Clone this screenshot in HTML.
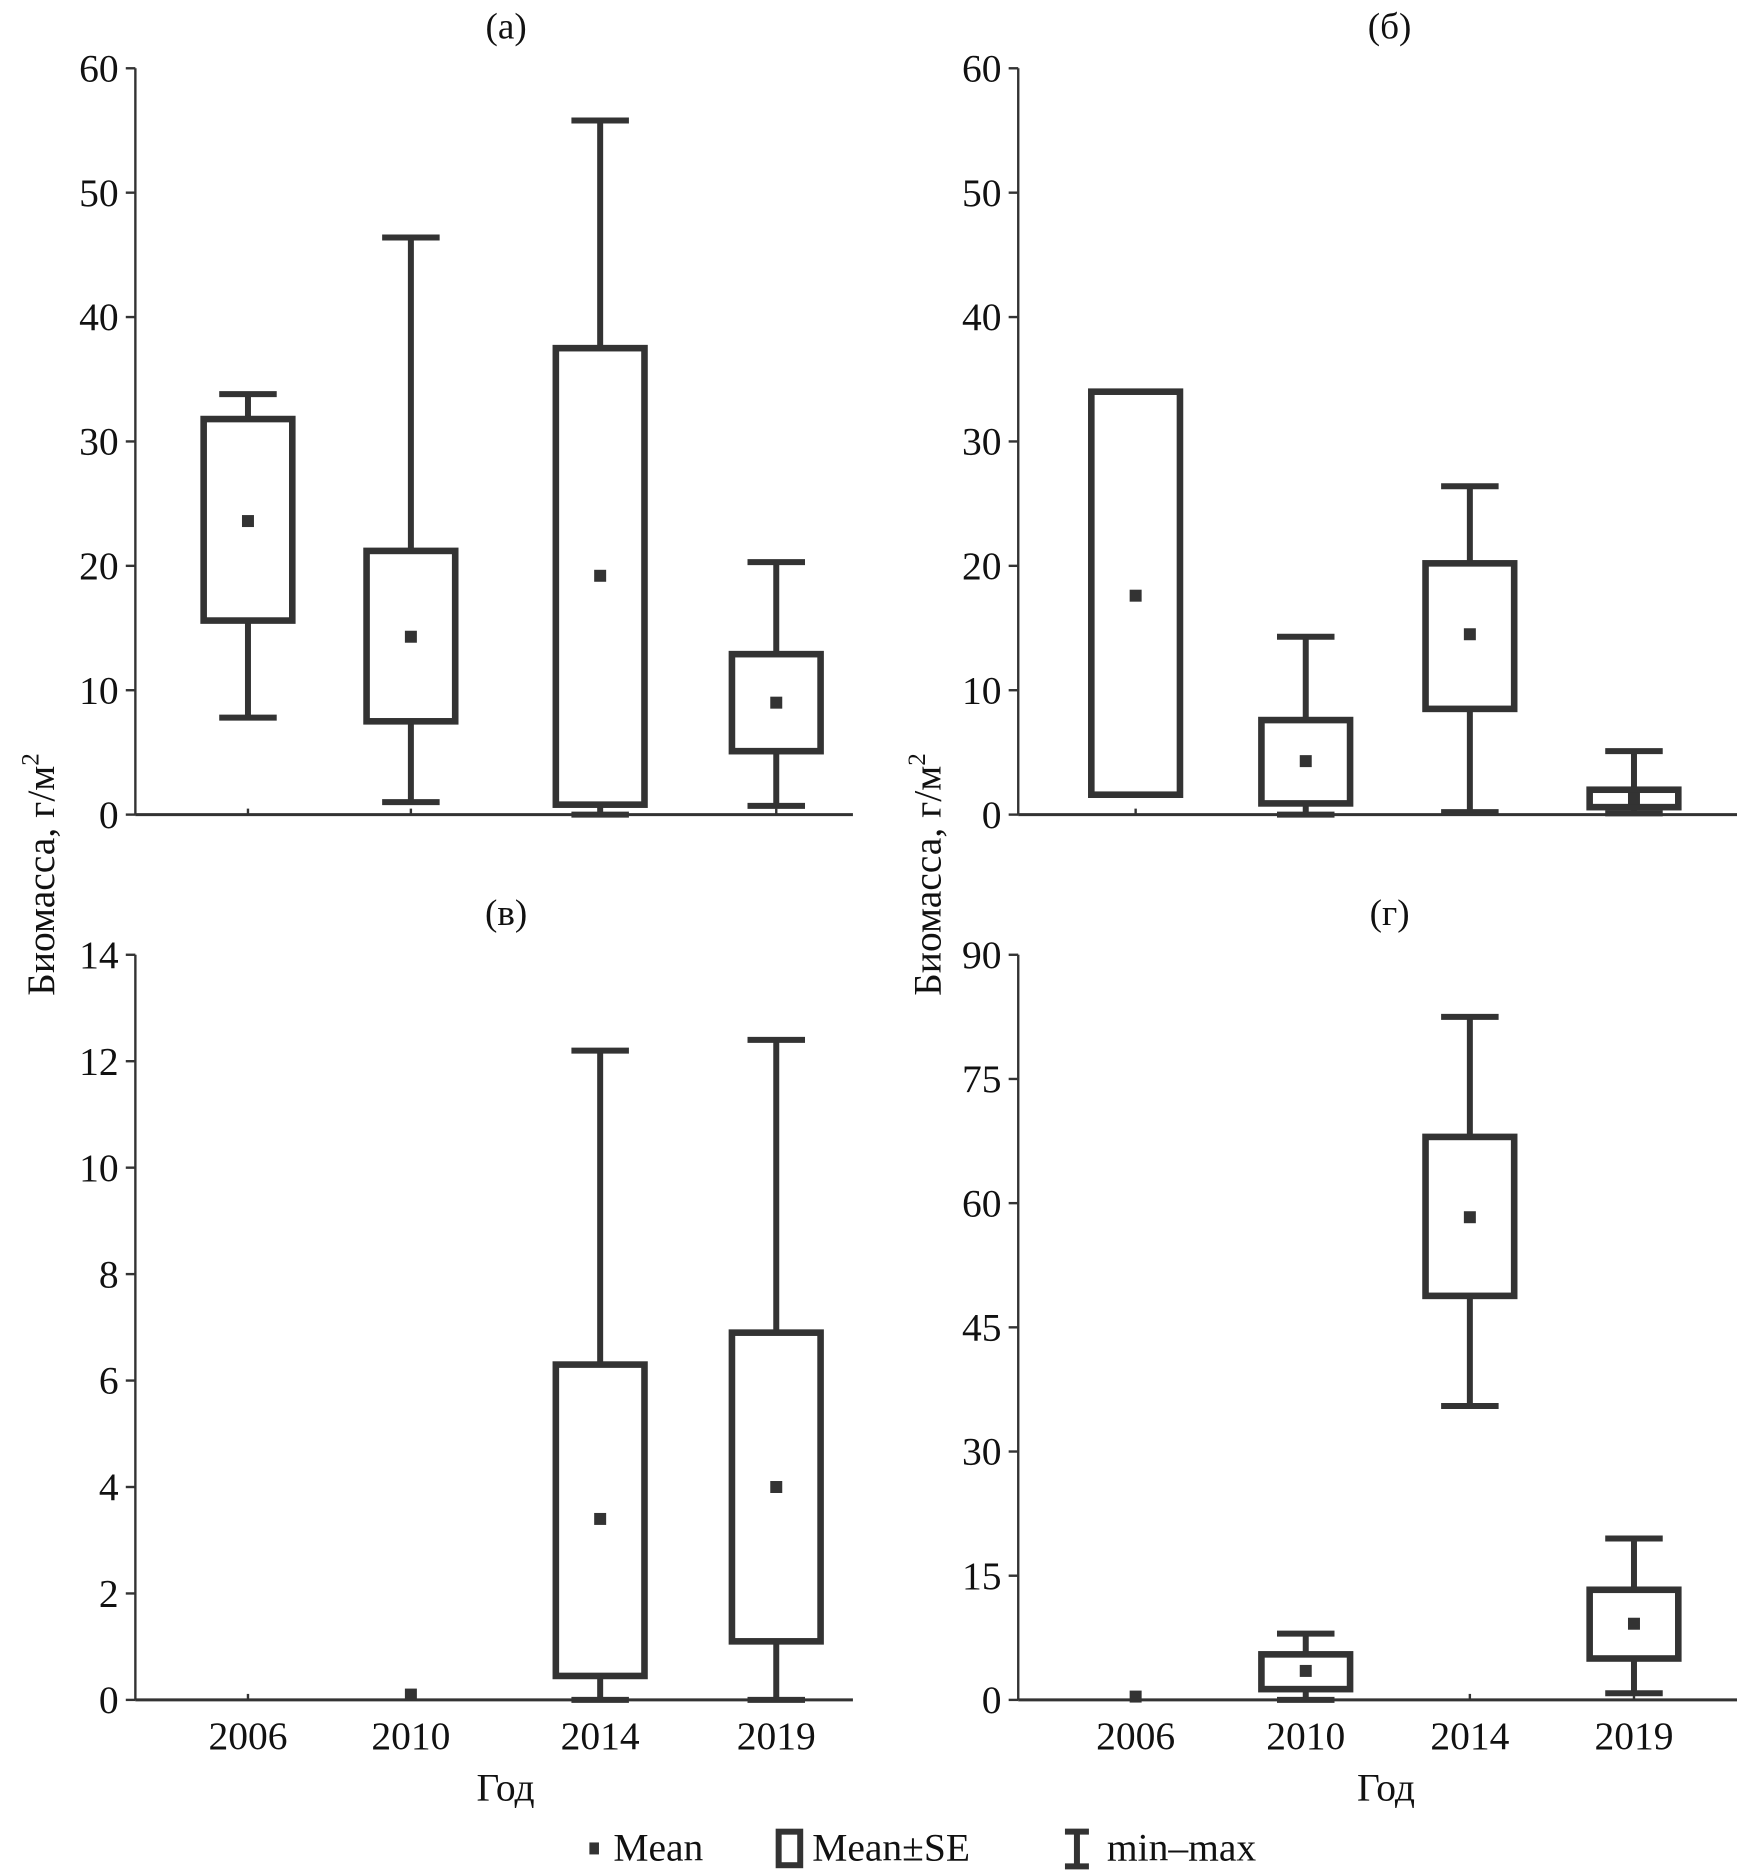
<!DOCTYPE html>
<html><head><meta charset="utf-8"><style>
html,body{margin:0;padding:0;background:#fff;width:1737px;height:1873px;overflow:hidden}
svg{display:block}
text{font-family:"Liberation Serif","DejaVu Serif",serif;fill:#111}
</style></head><body>
<svg id="fig" width="1737" height="1873" viewBox="0 0 1450 1563.5" preserveAspectRatio="none" xmlns="http://www.w3.org/2000/svg"></svg>
<script>
const categories = ["2006","2010","2014","2019"];
// panel a
const aMin=[7.8,1.0,0,0.7], aMax=[33.8,46.4,55.8,20.3], aLo=[15.6,7.5,0.8,5.1], aHi=[31.8,21.2,37.5,12.9], aMean=[23.6,14.3,19.2,9.0];
const aTicks=[0,10,20,30,40,50,60];
// panel b
const bMin=[1.6,0,0.2,0.1], bMax=[34.0,14.3,26.4,5.1], bLo=[1.6,0.9,8.5,0.6], bHi=[34.0,7.6,20.2,2.0], bMean=[17.6,4.3,14.5,1.3];
const bTicks=[0,10,20,30,40,50,60];
// panel v
const vMin=[0,0,0,0], vMax=[0,0.1,12.2,12.4], vLo=[0,0,0.45,1.1], vHi=[0,0,6.3,6.9], vMean=[0,0.1,3.4,4.0];
const vTicks=[0,2,4,6,8,10,12,14];
// panel g
const gMin=[0,0,35.5,0.8], gMax=[0.4,8,82.5,19.5], gLo=[0,1.3,48.8,5.0], gHi=[0,5.5,68.0,13.3], gMean=[0.4,3.5,58.3,9.2];
const gTicks=[0,15,30,45,60,75,90];

const NS="http://www.w3.org/2000/svg";
const svg=document.getElementById('fig');
const C="#333";
function el(tag,attrs,parent){const e=document.createElementNS(NS,tag);for(const k in attrs)e.setAttribute(k,attrs[k]);(parent||svg).appendChild(e);return e;}

function panel(key,title,x0,x1,y0,y1,ymax,ticks,xs,mn,mx,lo,hi,mean,showX){
  const g=el('g',{});
  
  
  const ys=v=>y0-(v/ymax)*(y0-y1);
  const t=el('text',{x:(x0+x1)/2+10,y:y1-25,'font-size':31,'text-anchor':'middle'},g);
  t.textContent=title;
  
  
  const ya=el('line',{x1:x0,y1:y1,x2:x0,y2:y0,stroke:C,'stroke-width':2},g);
  
  
  const xa=el('line',{x1:x0,y1:y0,x2:x1,y2:y0,stroke:C,'stroke-width':2.5},g);
  
  
  ticks.forEach(v=>{
    const tk=el('line',{x1:x0-8,y1:ys(v),x2:x0,y2:ys(v),stroke:C,'stroke-width':2},g);
    
    
    const tl=el('text',{x:x0-14,y:ys(v)+11,'font-size':33,'text-anchor':'end'},g);
    tl.textContent=v;
    
    
  });
  categories.forEach((c,i)=>{
    const cx=xs[i];
    const xt=el('line',{x1:cx,y1:y0,x2:cx,y2:y0-5,stroke:C,'stroke-width':2},g);
    
    
    if(showX){
      const xl=el('text',{x:cx,y:y0+41,'font-size':33,'text-anchor':'middle'},g);
      xl.textContent=c;
      
      
    }
    if(mx[i]-mn[i]>0.6){
      const w=el('line',{x1:cx,y1:ys(mx[i]),x2:cx,y2:ys(mn[i]),stroke:C,'stroke-width':5},g);
      
      
      [mx[i],mn[i]].forEach(v=>{
        const cap=el('line',{x1:cx-24,y1:ys(v),x2:cx+24,y2:ys(v),stroke:C,'stroke-width':5},g);
        
        
      });
    }
    if(hi[i]-lo[i]>0.2){
      const b=el('rect',{x:cx-37,y:ys(hi[i]),width:74,height:ys(lo[i])-ys(hi[i]),fill:'#fff',stroke:C,'stroke-width':5.5},g);
      
      
    }
    if(mean[i]>0.05){
      const m=el('rect',{x:cx-5,y:ys(mean[i])-5,width:10,height:10,fill:C},g);
      
      
    }
  });
}
const xsL=[207,343,501,648], xsR=[948,1090,1227,1364];
panel('a','(а)',113,712,680,57,60,aTicks,xsL,aMin,aMax,aLo,aHi,aMean,false);
panel('b','(б)',850,1450,680,57,60,bTicks,xsR,bMin,bMax,bLo,bHi,bMean,false);
panel('v','(в)',113,712,1419,797,14,vTicks,xsL,vMin,vMax,vLo,vHi,vMean,true);
panel('g','(г)',850,1450,1419,797,90,gTicks,xsR,gMin,gMax,gLo,gHi,gMean,true);

function txt(s,x,y,size,name,rot){
  const t=el('text',{x:x,y:y,'font-size':size,'text-anchor':'middle'});
  if(rot)t.setAttribute('transform','rotate(-90 '+x+' '+y+')');
  t.textContent=s;
  
  
  return t;
}
const yl1=txt('',45,730,33,'y-axis-title-left',true);
yl1.innerHTML='Биомасса, г/м<tspan font-size="21" dy="-13">2</tspan>';
const yl2=txt('',785,730,33,'y-axis-title-right',true);
yl2.innerHTML='Биомасса, г/м<tspan font-size="21" dy="-13">2</tspan>';
txt('Год',422,1503,33,'x-axis-title-left');
txt('Год',1157,1503,33,'x-axis-title-right');

// legend
const lg=el('g',{});


const l1=el('rect',{x:492,y:1538,width:8,height:10,fill:C},lg);


const t1=el('text',{x:512,y:1553,'font-size':33},lg);t1.textContent='Mean';


const l2=el('rect',{x:650,y:1529,width:18,height:28,fill:'#fff',stroke:C,'stroke-width':5},lg);


const t2=el('text',{x:678,y:1553,'font-size':33},lg);t2.textContent='Mean±SE';


const l3=el('path',{d:'M889 1529 H909 M899 1529 V1558 M889 1558 H909',stroke:C,'stroke-width':5,fill:'none'},lg);


const t3=el('text',{x:924,y:1553,'font-size':33},lg);t3.textContent='min–max';


</script>
</body></html>
